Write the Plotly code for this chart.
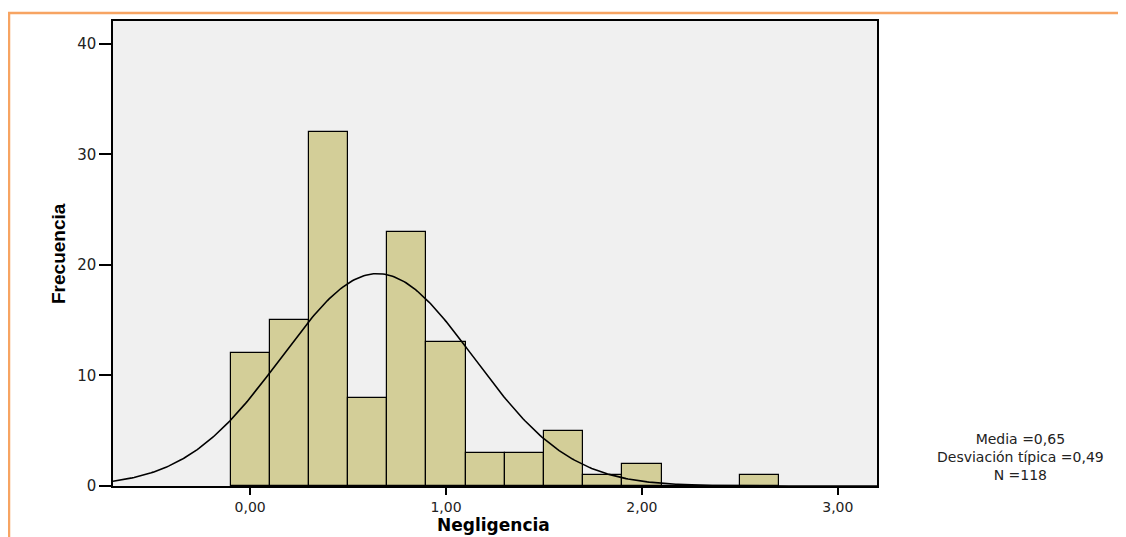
import numpy as np
import plotly.graph_objects as go

# ---- data ----
bin_centers = [0.0, 0.2, 0.4, 0.6, 0.8, 1.0, 1.2, 1.4, 1.6, 1.8, 2.0, 2.2, 2.4, 2.6]
counts = [12, 15, 32, 8, 23, 13, 3, 3, 5, 1, 2, 0, 0, 1]
bin_width = 0.2
mean_val = 0.65
std_val = 0.49
n_val = 118
x_tickvals = [0, 1, 2, 3]
x_ticktext = ["0,00", "1,00", "2,00", "3,00"]
y_tickvals = [0, 10, 20, 30, 40]
y_ticktext = ["0", "10", "20", "30", "40"]
stats_lines = ["Media =0,65", "Desviación típica =0,49", "N =118"]
x_title = "Negligencia"
y_title = "Frecuencia"

# ---- layout constants ----
# the page body has an 8px margin, so the figure is drawn 8px right/down
OFF = 8
W, H = 1126 - OFF, 537 - OFF
ML, MR, MT, MB = 113 - OFF, 249, 19 - OFF, 51
PW, PH = W - ML - MR, H - MT - MB
X_RANGE = [-0.7, 3.2]
Y_RANGE = [0, 42.07]
FONT = "DejaVu Sans, Liberation Sans, Arial, sans-serif"


def px_to_paper_x(px):
    """page pixel x -> paper coordinate"""
    return (px - OFF - ML) / PW


def px_to_paper_y(py):
    """page pixel y -> paper coordinate"""
    return (H - MB - (py - OFF)) / PH


# fitted normal curve (from the stated mean, sd and N)
xc = np.linspace(X_RANGE[0], X_RANGE[1], 400)
yc = n_val * bin_width / (std_val * np.sqrt(2 * np.pi)) * np.exp(-0.5 * ((xc - mean_val) / std_val) ** 2)

fig = go.Figure()
fig.add_trace(go.Bar(
    x=bin_centers, y=counts, width=bin_width,
    marker=dict(color="#D3CE98", line=dict(color="black", width=1.2)),
    showlegend=False, hoverinfo="x+y",
))
fig.add_trace(go.Scatter(
    x=xc, y=yc, mode="lines", line=dict(color="black", width=1.6),
    showlegend=False, hoverinfo="skip",
))

fig.update_layout(
    width=W, height=H,
    margin=dict(l=ML, r=MR, t=MT, b=MB, pad=0),
    paper_bgcolor="white",
    plot_bgcolor="#F0F0F0",
    bargap=0,
    font=dict(family=FONT, color="#222222"),
    showlegend=False,
)
fig.update_xaxes(
    range=X_RANGE, tickvals=x_tickvals, ticktext=x_ticktext,
    showgrid=False, zeroline=False,
    showline=True, linecolor="black", linewidth=1.5, mirror=True,
    ticks="outside", ticklen=7, tickwidth=2, tickcolor="black",
    tickfont=dict(size=14, family=FONT, color="#222222"),
)
fig.update_yaxes(
    range=Y_RANGE, tickvals=y_tickvals, ticktext=y_ticktext,
    showgrid=False, zeroline=False,
    showline=True, linecolor="black", linewidth=1.5, mirror=True,
    ticks="outside", ticklen=12, tickwidth=1.5, tickcolor="black",
    tickfont=dict(size=15, family=FONT, color="#222222"),
)

annotations = []
# axis titles
annotations.append(dict(
    text=f"<b>{y_title}</b>", textangle=-90, showarrow=False,
    xref="paper", yref="paper", x=px_to_paper_x(58), y=px_to_paper_y(252),
    xanchor="center", yanchor="middle",
    font=dict(size=19, family="Liberation Sans, Arial, sans-serif", color="black"),
))
annotations.append(dict(
    text=f"<b>{x_title}</b>", showarrow=False,
    xref="paper", yref="paper", x=px_to_paper_x(493), y=px_to_paper_y(537),
    xanchor="center", yanchor="bottom",
    font=dict(size=17, family=FONT, color="black"),
))
# statistics text
annotations.append(dict(
    text="<br>".join(stats_lines), showarrow=False, align="center",
    xref="paper", yref="paper", x=px_to_paper_x(1020), y=px_to_paper_y(457),
    xanchor="center", yanchor="middle",
    font=dict(size=14, family=FONT, color="#222222"),
))
fig.update_layout(annotations=annotations)

# orange frame lines (top and left) of the original output window
orange = "#F7A462"
fig.add_shape(type="line", xref="paper", yref="paper",
              x0=px_to_paper_x(8), x1=px_to_paper_x(1126 + 5),
              y0=px_to_paper_y(11), y1=px_to_paper_y(11),
              line=dict(color=orange, width=2.5), layer="above")
fig.add_shape(type="line", xref="paper", yref="paper",
              x0=px_to_paper_x(9), x1=px_to_paper_x(9),
              y0=px_to_paper_y(11), y1=px_to_paper_y(537 + 5),
              line=dict(color=orange, width=2.5), layer="above")

fig.write_html("out.html", config={"displayModeBar": False})
